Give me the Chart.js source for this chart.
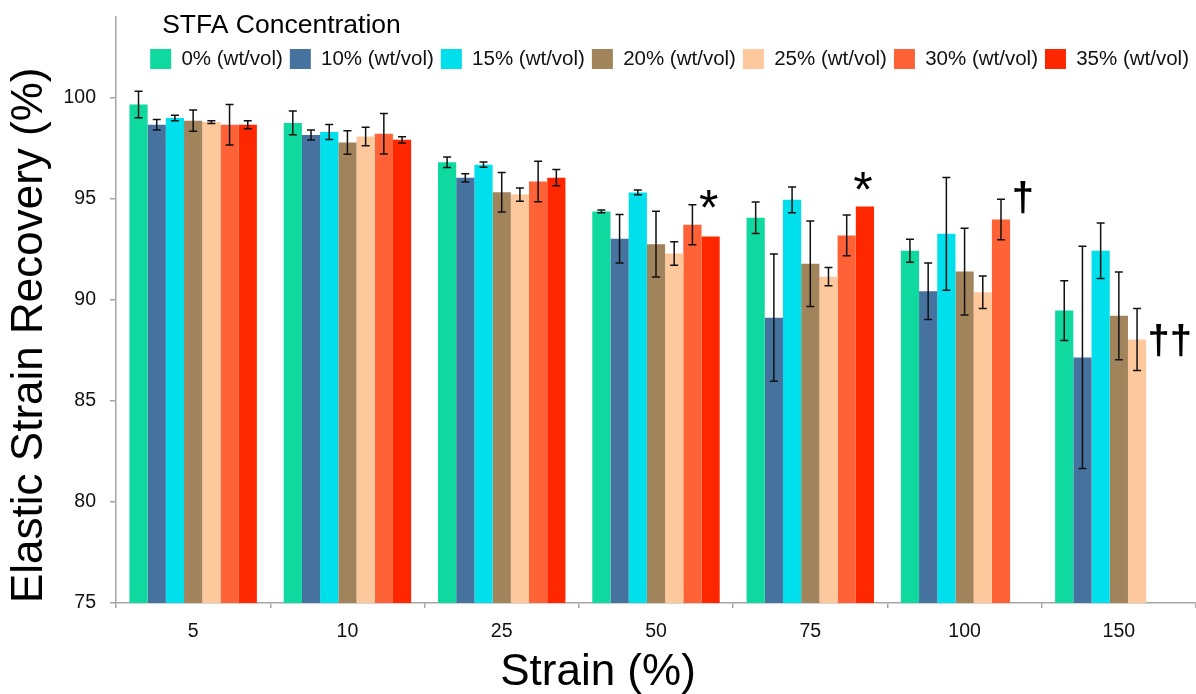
<!DOCTYPE html>
<html>
<head>
<meta charset="utf-8">
<script src="https://cdn.jsdelivr.net/npm/chart.js@4.4.0/dist/chart.umd.min.js"></script>
<style>
  html, body { margin: 0; padding: 0; background: #fff; }
  #chart { display: block; }
</style>
</head>
<body>
<canvas id="chart" width="1196" height="694"></canvas>
<script>
// strain levels on the x axis
const strains = ['5', '10', '25', '50', '75', '100', '150'];

const concLabels = ['0% (wt/vol)', '10% (wt/vol)', '15% (wt/vol)', '20% (wt/vol)',
                    '25% (wt/vol)', '30% (wt/vol)', '35% (wt/vol)'];
const concColors = ['#10d9a0', '#46729f', '#00e0ec', '#a2845c', '#fdc89c', '#ff6236', '#ff2700'];
const legendTitle = 'STFA Concentration';

// mean elastic strain recovery (%)
const rec0  = [99.67, 98.76, 96.81, 94.38, 94.06, 92.43, 89.47];
const rec10 = [98.67, 98.16, 96.04, 93.03, 89.12, 90.43, 87.15];
const rec15 = [99.00, 98.31, 96.69, 95.32, 94.95, 93.27, 92.43];
const rec20 = [98.87, 97.79, 95.33, 92.76, 91.79, 91.40, 89.21];
const rec25 = [98.80, 98.09, 95.21, 92.30, 91.15, 90.38, 88.04];
const rec30 = [98.67, 98.22, 95.86, 93.72, 93.19, 93.98, null];
const rec35 = [98.67, 97.92, 96.05, 93.14, 94.62, null, null];

// standard deviation
const err0  = [0.65, 0.59, 0.26, 0.07, 0.78, 0.57, 1.48];
const err10 = [0.26, 0.25, 0.20, 1.20, 3.15, 1.40, 5.50];
const err15 = [0.14, 0.37, 0.13, 0.12, 0.64, 2.79, 1.37];
const err20 = [0.53, 0.58, 0.98, 1.63, 2.12, 2.15, 2.17];
const err25 = [0.07, 0.46, 0.33, 0.58, 0.45, 0.80, 1.54];
const err30 = [1.00, 1.00, 1.00, 0.99, 1.01, 1.00, null];
const err35 = [0.20, 0.15, 0.40, null, null, null, null];

// significance marks: text, strain index, series slot (may be fractional), value at mark centre
const markLabels = ['*', '*', '†', '††'];
const markStrain = [3, 4, 5, 6];
const markSeries = [5.9, 5.9, 6.2, 5.8];
const markValue  = [95.0, 95.86, 95.07, 87.97];

const yTicks = [75, 80, 85, 90, 95, 100];

const FONT = '"Liberation Sans", Arial, sans-serif';
const recs = [rec0, rec10, rec15, rec20, rec25, rec30, rec35];
const errs = [err0, err10, err15, err20, err25, err30, err35];

const datasets = recs.map((data, i) => ({
    label: concLabels[i],
    data: data,
    errors: errs[i],
    backgroundColor: concColors[i],
    borderWidth: 0,
    categoryPercentage: 0.826,
    barPercentage: 1.0
}));

// legend sits inside the plot area, so it only reserves the strip above the axis
const floatingLegend = {
    id: 'floatingLegend',
    afterInit(chart) {
        const lg = chart.legend;
        const fit = lg.fit.bind(lg);
        const draw = lg.draw.bind(lg);
        lg.fit = function () {
            fit();
            this._fullHeight = this.height;
            this.height = 17;
        };
        lg.draw = function (area) {
            const h = this.height;
            this.height = this._fullHeight;
            this.bottom = this.top + this._fullHeight;
            draw(area);
            this.height = h;
            this.bottom = this.top + h;
            // visible title, indented a little from the first legend box
            const ctx = this.ctx;
            ctx.save();
            ctx.fillStyle = '#000';
            ctx.font = '26.5px ' + FONT;
            ctx.textAlign = 'left';
            ctx.textBaseline = 'middle';
            ctx.fillText(legendTitle, this.right - this.lineWidths[0] + 12, this.top + 12.25 + 13.25);
            ctx.restore();
        };
    }
};

const errorBars = {
    id: 'errorBars',
    afterDatasetsDraw(chart) {
        const ctx = chart.ctx;
        const y = chart.scales.y;
        ctx.save();
        ctx.strokeStyle = '#111';
        ctx.lineWidth = 1.5;
        chart.data.datasets.forEach((ds, i) => {
            const meta = chart.getDatasetMeta(i);
            meta.data.forEach((bar, j) => {
                const v = ds.data[j];
                const e = ds.errors[j];
                if (v == null || e == null) return;
                const top = y.getPixelForValue(v + e);
                const bot = y.getPixelForValue(v - e);
                ctx.beginPath();
                ctx.moveTo(bar.x, top); ctx.lineTo(bar.x, bot);
                ctx.moveTo(bar.x - 4, top); ctx.lineTo(bar.x + 4, top);
                ctx.moveTo(bar.x - 4, bot); ctx.lineTo(bar.x + 4, bot);
                ctx.stroke();
            });
        });
        ctx.restore();
    }
};

// x of a (possibly fractional) series slot inside a category
function slotX(chart, series, idx) {
    const a = Math.min(Math.floor(series), chart.data.datasets.length - 2);
    const xa = chart.getDatasetMeta(a).data[idx].x;
    const xb = chart.getDatasetMeta(a + 1).data[idx].x;
    return xa + (xb - xa) * (series - a);
}

const sigMarks = {
    id: 'sigMarks',
    afterDatasetsDraw(chart) {
        const ctx = chart.ctx;
        const y = chart.scales.y;
        ctx.save();
        ctx.fillStyle = '#000';
        ctx.textAlign = 'center';
        ctx.textBaseline = 'alphabetic';
        markLabels.forEach((t, k) => {
            ctx.font = (t === '*' ? '50px ' : 'bold 40px ') + FONT;
            const m = ctx.measureText(t);
            const x = slotX(chart, markSeries[k], markStrain[k]);
            const yc = y.getPixelForValue(markValue[k]);
            ctx.fillText(t, x, yc + (m.actualBoundingBoxAscent - m.actualBoundingBoxDescent) / 2);
        });
        ctx.restore();
    }
};

new Chart(document.getElementById('chart'), {
    type: 'bar',
    data: { labels: strains, datasets: datasets },
    options: {
        responsive: false,
        animation: false,
        layout: { padding: 0 },
        plugins: {
            tooltip: { enabled: false },
            legend: {
                position: 'top',
                align: 'end',
                labels: {
                    boxWidth: 21,
                    boxHeight: 20,
                    padding: 7,
                    color: '#111',
                    font: { family: FONT, size: 20.5 }
                },
                title: {
                    // reserves the space; the text itself is drawn by floatingLegend
                    display: true,
                    text: legendTitle,
                    position: 'start',
                    color: 'rgba(0,0,0,0)',
                    padding: { top: 12.25, bottom: 3 },
                    font: { family: FONT, size: 26.5, lineHeight: 1 }
                }
            },
            title: {
                display: true,
                position: 'bottom',
                text: 'Strain (%)',
                color: '#000',
                padding: { top: 5, bottom: -5 },
                font: { family: FONT, size: 44, weight: 'normal', lineHeight: 1.2 }
            }
        },
        scales: {
            x: {
                grid: {
                    offset: true,
                    drawOnChartArea: false,
                    tickLength: 5,
                    color: '#a6a6a6',
                    lineWidth: 1.5
                },
                border: { color: '#a6a6a6', width: 1.5 },
                ticks: {
                    color: '#111',
                    padding: 12,
                    font: { family: FONT, size: 19.5 }
                },
                afterFit(scale) { scale.height = 38.2; }
            },
            y: {
                min: 75,
                max: 104,
                afterBuildTicks(scale) {
                    scale.ticks = yTicks.map(v => ({ value: v }));
                },
                grid: {
                    drawOnChartArea: false,
                    tickLength: 6,
                    color: '#a6a6a6',
                    lineWidth: 1.5
                },
                border: { color: '#a6a6a6', width: 1.5 },
                ticks: {
                    color: '#111',
                    padding: 14,
                    font: { family: FONT, size: 19.5 }
                },
                title: {
                    display: true,
                    text: 'Elastic Strain Recovery (%)',
                    align: 'start',
                    color: '#000',
                    padding: { top: 3, bottom: 0 },
                    font: { family: FONT, size: 44, lineHeight: 1.2 }
                },
                afterFit(scale) {
                    scale.width = 116;
                    scale.paddingTop = 0;
                    scale.paddingBottom = 0;
                }
            }
        }
    },
    plugins: [floatingLegend, errorBars, sigMarks]
});
</script>
</body>
</html>
